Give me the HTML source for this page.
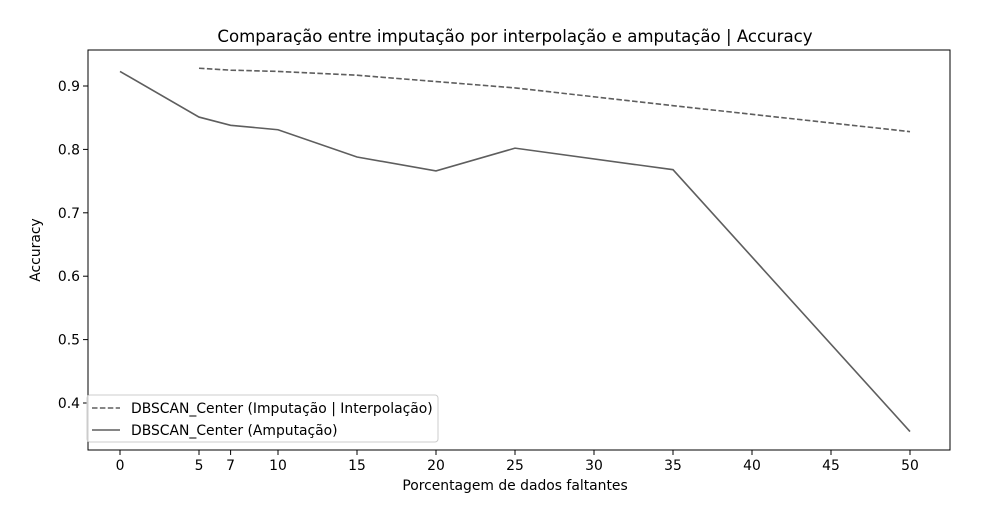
<!DOCTYPE html>
<html><head><meta charset="utf-8"><style>
body{margin:0;background:#fff;font-family:"Liberation Sans","DejaVu Sans",sans-serif}
svg text{font-family:"DejaVu Sans","Liberation Sans",sans-serif;fill:#000}
</style></head><body>
<svg id="chart" width="1000" height="500">
<rect x="0" y="0" width="1000" height="500" fill="#fff"/>
<text x="515" y="42" font-size="16.6" text-anchor="middle">Comparação entre imputação por interpolação e amputação | Accuracy</text>
<rect x="88" y="50" width="862" height="400" fill="none" stroke="#000" stroke-width="1"/>
<g id="xticks"></g><g id="yticks"></g><g id="series"></g>
<text x="515" y="490" font-size="13.9" text-anchor="middle">Porcentagem de dados faltantes</text>
<text x="40" y="250" font-size="13.9" text-anchor="middle" transform="rotate(-90 40 250)">Accuracy</text>
<g>
<rect x="87" y="395" width="351" height="47" rx="3" fill="#fff" fill-opacity="0.8" stroke="#ccc"/>
<line x1="92" y1="408" x2="120" y2="408" stroke="#5e5e5e" stroke-width="1.5" stroke-dasharray="5.5,2.4"/>
<text x="131" y="413" font-size="13.9">DBSCAN_Center (Imputação | Interpolação)</text>
<line x1="92" y1="430" x2="120" y2="430" stroke="#5e5e5e" stroke-width="1.5"/>
<text x="131" y="435" font-size="13.9">DBSCAN_Center (Amputação)</text>
</g>
</svg>
<script>
const xTicks=[0,5,7,10,15,20,25,30,35,40,45,50];
const yTicks=[0.4,0.5,0.6,0.7,0.8,0.9];
const impX=[5,7,10,15,20,25,35,50];
const impY=[0.928,0.925,0.923,0.917,0.907,0.897,0.869,0.828];
const ampX=[0,5,7,10,15,20,25,35,50];
const ampY=[0.923,0.851,0.838,0.831,0.788,0.766,0.802,0.768,0.355];
const NS='http://www.w3.org/2000/svg';
function xs(v){return 120+v*15.8;}
function ys(v){return 86+(0.9-v)*634;}
function mk(t,a,p){const e=document.createElementNS(NS,t);for(const k in a)e.setAttribute(k,a[k]);p.appendChild(e);return e;}
const xg=document.getElementById('xticks'),yg=document.getElementById('yticks'),sg=document.getElementById('series');
xTicks.forEach(v=>{const x=xs(v);
mk('line',{x1:x,y1:450,x2:x,y2:455,stroke:'#000'},xg);
const t=mk('text',{x:x,y:470,'font-size':13.9,'text-anchor':'middle'},xg);t.textContent=v;

});
yTicks.forEach(v=>{const y=ys(v);
mk('line',{x1:83,y1:y,x2:88,y2:y,stroke:'#000'},yg);
const t=mk('text',{x:80,y:y+5,'font-size':13.9,'text-anchor':'end'},yg);t.textContent=v.toFixed(1);

});
function line(X,Y,dash,name){const p=mk('polyline',{points:X.map((x,i)=>xs(x)+','+ys(Y[i])).join(' '),fill:'none',stroke:'#5e5e5e','stroke-width':1.6},sg);
if(dash)p.setAttribute('stroke-dasharray','5.5,2.4');

}
line(impX,impY,true,'imputacao-line');
line(ampX,ampY,false,'amputacao-line');
</script>
</body></html>
